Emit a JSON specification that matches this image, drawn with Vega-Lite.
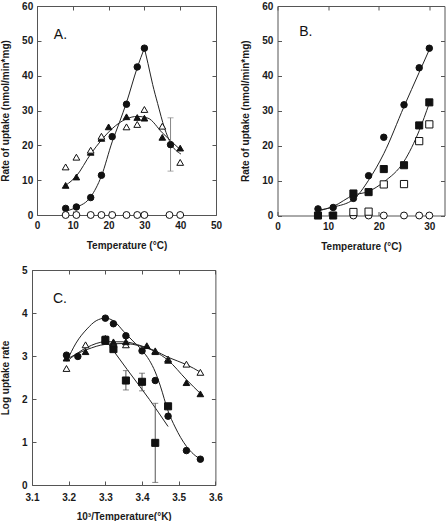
{
  "$schema": "https://vega.github.io/schema/vega-lite/v6.json",
  "padding": 0,
  "background": "white",
  "spacing": 13,
  "config": {
    "font": "Liberation Sans",
    "view": {"stroke": "#555", "strokeWidth": 1},
    "axis": {
      "grid": false, "domain": false, "domainColor": "#555", "domainWidth": 1, "tickColor": "#555", "tickSize": -4, "tickWidth": 1,
      "labelFont": "Liberation Sans", "labelFontWeight": "bold", "labelFontSize": 10, "labelColor": "#1a1a1a",
      "titleFont": "Liberation Sans", "titleFontWeight": "bold", "titleFontSize": 10, "titleColor": "#1a1a1a",
      "labelFlush": false, "labelOverlap": false
    }
  },
  "datasets": {
    "aPoints": [
      {"series": "filled circle", "x": 8, "y": 1.9}, {"series": "filled circle", "x": 11, "y": 2.3}, {"series": "filled circle", "x": 15, "y": 5.0}, {"series": "filled circle", "x": 18, "y": 11.4}, {"series": "filled circle", "x": 21, "y": 22.5}, {"series": "filled circle", "x": 25, "y": 31.8}, {"series": "filled circle", "x": 28, "y": 42.5}, {"series": "filled circle", "x": 30, "y": 47.9}, {"series": "filled circle", "x": 37.3, "y": 20.2},
      {"series": "filled triangle", "x": 8, "y": 8.5}, {"series": "filled triangle", "x": 11, "y": 10.9}, {"series": "filled triangle", "x": 15, "y": 18.0}, {"series": "filled triangle", "x": 18, "y": 22.0}, {"series": "filled triangle", "x": 20, "y": 25.3}, {"series": "filled triangle", "x": 25, "y": 28.2}, {"series": "filled triangle", "x": 28, "y": 28.0}, {"series": "filled triangle", "x": 30, "y": 27.8}, {"series": "filled triangle", "x": 35, "y": 22.3}, {"series": "filled triangle", "x": 40, "y": 19.2},
      {"series": "open triangle", "x": 8, "y": 13.8}, {"series": "open triangle", "x": 11, "y": 16.6}, {"series": "open triangle", "x": 15, "y": 18.6}, {"series": "open triangle", "x": 18, "y": 22.6}, {"series": "open triangle", "x": 25, "y": 25.3}, {"series": "open triangle", "x": 28, "y": 26.0}, {"series": "open triangle", "x": 30, "y": 30.3}, {"series": "open triangle", "x": 35, "y": 25.5}, {"series": "open triangle", "x": 40, "y": 15.1},
      {"series": "open circle", "x": 8, "y": 0}, {"series": "open circle", "x": 11, "y": 0}, {"series": "open circle", "x": 15, "y": 0}, {"series": "open circle", "x": 18, "y": 0}, {"series": "open circle", "x": 21, "y": 0}, {"series": "open circle", "x": 25, "y": 0}, {"series": "open circle", "x": 28, "y": 0}, {"series": "open circle", "x": 30, "y": 0}, {"series": "open circle", "x": 37, "y": 0}, {"series": "open circle", "x": 40, "y": 0}
    ],
    "aCurves": [
      {"curve": "circle rise", "x": 8, "y": 1.1}, {"curve": "circle rise", "x": 11, "y": 2.2}, {"curve": "circle rise", "x": 15, "y": 5.2}, {"curve": "circle rise", "x": 18, "y": 11.2}, {"curve": "circle rise", "x": 21, "y": 21.0}, {"curve": "circle rise", "x": 23, "y": 26.5}, {"curve": "circle rise", "x": 25, "y": 32.3}, {"curve": "circle rise", "x": 28, "y": 42.3}, {"curve": "circle rise", "x": 30, "y": 47.9},
      {"curve": "circle fall", "x": 30, "y": 47.9}, {"curve": "circle fall", "x": 31, "y": 43.5}, {"curve": "circle fall", "x": 32.3, "y": 37.5}, {"curve": "circle fall", "x": 33.7, "y": 32.0}, {"curve": "circle fall", "x": 35.6, "y": 25.0}, {"curve": "circle fall", "x": 37.4, "y": 20.5}, {"curve": "circle fall", "x": 40.2, "y": 17.5},
      {"curve": "triangle", "x": 8, "y": 8.5}, {"curve": "triangle", "x": 11, "y": 11.2}, {"curve": "triangle", "x": 15, "y": 17.5}, {"curve": "triangle", "x": 18, "y": 21.5}, {"curve": "triangle", "x": 21, "y": 24.8}, {"curve": "triangle", "x": 25, "y": 27.6}, {"curve": "triangle", "x": 28, "y": 28.3}, {"curve": "triangle", "x": 31, "y": 27.8}, {"curve": "triangle", "x": 35, "y": 23.6}, {"curve": "triangle", "x": 40.2, "y": 18.6}
    ],
    "aErrors": [{"x": 37.3, "lo": 12.6, "hi": 27.9}],
    "bPoints": [
      {"series": "filled square", "x": 8, "y": 0}, {"series": "filled square", "x": 11, "y": 0}, {"series": "filled square", "x": 15, "y": 6.3}, {"series": "filled square", "x": 18, "y": 6.7}, {"series": "filled square", "x": 21, "y": 13.3}, {"series": "filled square", "x": 25, "y": 14.4}, {"series": "filled square", "x": 28, "y": 25.8}, {"series": "filled square", "x": 30, "y": 32.4},
      {"series": "open circle", "x": 15, "y": 0}, {"series": "open circle", "x": 18, "y": 0}, {"series": "open circle", "x": 21, "y": 0}, {"series": "open circle", "x": 25, "y": 0}, {"series": "open circle", "x": 28, "y": 0}, {"series": "open circle", "x": 30, "y": 0},
      {"series": "open square", "x": 15, "y": 1.0}, {"series": "open square", "x": 18, "y": 1.1}, {"series": "open square", "x": 21, "y": 8.9}, {"series": "open square", "x": 25, "y": 9.0}, {"series": "open square", "x": 28, "y": 21.3}, {"series": "open square", "x": 30, "y": 26.1},
      {"series": "filled circle", "x": 8, "y": 1.9}, {"series": "filled circle", "x": 11, "y": 2.3}, {"series": "filled circle", "x": 15, "y": 4.9}, {"series": "filled circle", "x": 18, "y": 11.4}, {"series": "filled circle", "x": 21, "y": 22.4}, {"series": "filled circle", "x": 25, "y": 31.7}, {"series": "filled circle", "x": 28, "y": 42.3}, {"series": "filled circle", "x": 30, "y": 47.9}
    ],
    "bCurves": [
      {"curve": "circle", "x": 8, "y": 1.5}, {"curve": "circle", "x": 11, "y": 2.4}, {"curve": "circle", "x": 15, "y": 4.6}, {"curve": "circle", "x": 18, "y": 10.1}, {"curve": "circle", "x": 21, "y": 17.7}, {"curve": "circle", "x": 25, "y": 31.2}, {"curve": "circle", "x": 28, "y": 41.0}, {"curve": "circle", "x": 30, "y": 47.5},
      {"curve": "square", "x": 8, "y": 1.3}, {"curve": "square", "x": 11, "y": 2.6}, {"curve": "square", "x": 15, "y": 5.8}, {"curve": "square", "x": 18, "y": 6.9}, {"curve": "square", "x": 21, "y": 9.6}, {"curve": "square", "x": 25, "y": 15.5}, {"curve": "square", "x": 28, "y": 24.3}, {"curve": "square", "x": 30, "y": 32.2}
    ],
    "cPoints": [
      {"series": "open triangle", "x": 3.194, "y": 2.71}, {"series": "open triangle", "x": 3.246, "y": 3.26}, {"series": "open triangle", "x": 3.300, "y": 3.41}, {"series": "open triangle", "x": 3.322, "y": 3.27}, {"series": "open triangle", "x": 3.356, "y": 3.26}, {"series": "open triangle", "x": 3.436, "y": 3.12}, {"series": "open triangle", "x": 3.471, "y": 2.93}, {"series": "open triangle", "x": 3.521, "y": 2.81}, {"series": "open triangle", "x": 3.559, "y": 2.62},
      {"series": "filled triangle", "x": 3.194, "y": 2.95}, {"series": "filled triangle", "x": 3.246, "y": 3.10}, {"series": "filled triangle", "x": 3.300, "y": 3.34}, {"series": "filled triangle", "x": 3.322, "y": 3.33}, {"series": "filled triangle", "x": 3.356, "y": 3.33}, {"series": "filled triangle", "x": 3.413, "y": 3.24}, {"series": "filled triangle", "x": 3.436, "y": 3.10}, {"series": "filled triangle", "x": 3.471, "y": 2.90}, {"series": "filled triangle", "x": 3.521, "y": 2.38}, {"series": "filled triangle", "x": 3.559, "y": 2.12},
      {"series": "filled square", "x": 3.300, "y": 3.37}, {"series": "filled square", "x": 3.322, "y": 3.16}, {"series": "filled square", "x": 3.356, "y": 2.43}, {"series": "filled square", "x": 3.400, "y": 2.40}, {"series": "filled square", "x": 3.436, "y": 0.98}, {"series": "filled square", "x": 3.471, "y": 1.83},
      {"series": "filled circle", "x": 3.194, "y": 3.02}, {"series": "filled circle", "x": 3.225, "y": 2.99}, {"series": "filled circle", "x": 3.300, "y": 3.88}, {"series": "filled circle", "x": 3.322, "y": 3.75}, {"series": "filled circle", "x": 3.356, "y": 3.47}, {"series": "filled circle", "x": 3.400, "y": 3.12}, {"series": "filled circle", "x": 3.436, "y": 2.43}, {"series": "filled circle", "x": 3.471, "y": 1.60}, {"series": "filled circle", "x": 3.521, "y": 0.80}, {"series": "filled circle", "x": 3.559, "y": 0.60}
    ],
    "cCurves": [
      {"curve": "circle", "x": 3.195, "y": 2.88}, {"curve": "circle", "x": 3.22, "y": 3.3}, {"curve": "circle", "x": 3.25, "y": 3.63}, {"curve": "circle", "x": 3.275, "y": 3.82}, {"curve": "circle", "x": 3.30, "y": 3.88}, {"curve": "circle", "x": 3.325, "y": 3.8}, {"curve": "circle", "x": 3.35, "y": 3.57}, {"curve": "circle", "x": 3.375, "y": 3.35}, {"curve": "circle", "x": 3.40, "y": 3.13}, {"curve": "circle", "x": 3.42, "y": 2.9}, {"curve": "circle", "x": 3.436, "y": 2.63}, {"curve": "circle", "x": 3.45, "y": 2.3}, {"curve": "circle", "x": 3.471, "y": 1.72}, {"curve": "circle", "x": 3.49, "y": 1.35}, {"curve": "circle", "x": 3.521, "y": 0.9}, {"curve": "circle", "x": 3.54, "y": 0.72}, {"curve": "circle", "x": 3.56, "y": 0.6},
      {"curve": "square", "x": 3.30, "y": 3.38}, {"curve": "square", "x": 3.36, "y": 2.68}, {"curve": "square", "x": 3.42, "y": 1.99}, {"curve": "square", "x": 3.471, "y": 1.36},
      {"curve": "filled triangle", "x": 3.195, "y": 2.93}, {"curve": "filled triangle", "x": 3.25, "y": 3.15}, {"curve": "filled triangle", "x": 3.30, "y": 3.27}, {"curve": "filled triangle", "x": 3.35, "y": 3.29}, {"curve": "filled triangle", "x": 3.40, "y": 3.22}, {"curve": "filled triangle", "x": 3.436, "y": 3.1}, {"curve": "filled triangle", "x": 3.471, "y": 2.9}, {"curve": "filled triangle", "x": 3.521, "y": 2.45}, {"curve": "filled triangle", "x": 3.56, "y": 2.12},
      {"curve": "open triangle", "x": 3.195, "y": 2.88}, {"curve": "open triangle", "x": 3.25, "y": 3.2}, {"curve": "open triangle", "x": 3.30, "y": 3.33}, {"curve": "open triangle", "x": 3.35, "y": 3.33}, {"curve": "open triangle", "x": 3.40, "y": 3.23}, {"curve": "open triangle", "x": 3.436, "y": 3.12}, {"curve": "open triangle", "x": 3.471, "y": 2.97}, {"curve": "open triangle", "x": 3.521, "y": 2.8}, {"curve": "open triangle", "x": 3.56, "y": 2.62}
    ],
    "cErrors": [
      {"x": 3.300, "lo": 3.28, "hi": 3.47}, {"x": 3.356, "lo": 2.21, "hi": 2.66}, {"x": 3.400, "lo": 2.19, "hi": 2.60}, {"x": 3.436, "lo": 0.06, "hi": 1.90}
    ]
  },
  "vconcat": [
    {
      "spacing": 16.5,
      "hconcat": [
        {
          "width": 179, "height": 209,
          "layer": [
            {
              "data": {"name": "aCurves"},
              "mark": {"type": "line", "interpolate": "monotone", "color": "#222", "strokeWidth": 1},
              "encoding": {
                "x": {"field": "x", "type": "quantitative", "scale": {"domain": [0, 50], "nice": false, "zero": false},
                      "axis": {"orient": "bottom", "values": [0, 10, 20, 30, 40, 50], "title": "Temperature (°C)", "labelPadding": 9, "titlePadding": 10}},
                "y": {"field": "y", "type": "quantitative", "scale": {"domain": [0, 60], "nice": false, "zero": false},
                      "axis": {"orient": "left", "values": [0, 10, 20, 30, 40, 50, 60], "title": "Rate of uptake (nmol/min*mg)", "labelPadding": 8.3, "titlePadding": 11}},
                "detail": {"field": "curve"}
              }
            },
            {
              "data": {"name": "aPoints"},
              "mark": {"type": "point", "opacity": 0},
              "encoding": {
                "x": {"field": "x", "type": "quantitative", "scale": {"domain": [0, 50], "nice": false, "zero": false},
                      "axis": {"orient": "top", "values": [0, 10, 20, 30, 40, 50], "labels": false, "title": null}},
                "y": {"field": "y", "type": "quantitative", "scale": {"domain": [0, 60], "nice": false, "zero": false},
                      "axis": {"orient": "right", "values": [0, 10, 20, 30, 40, 50, 60], "labels": false, "title": null}}
              }
            },
            {
              "data": {"name": "aErrors"},
              "mark": {"type": "rule", "color": "#888", "strokeWidth": 1},
              "encoding": {
                "x": {"field": "x", "type": "quantitative", "axis": null},
                "y": {"field": "lo", "type": "quantitative", "axis": null},
                "y2": {"field": "hi"}
              }
            },
            {
              "data": {"name": "aErrors"},
              "mark": {"type": "tick", "orient": "horizontal", "size": 6, "thickness": 1, "color": "#888"},
              "encoding": {
                "x": {"field": "x", "type": "quantitative", "axis": null},
                "y": {"field": "lo", "type": "quantitative", "axis": null}
              }
            },
            {
              "data": {"name": "aErrors"},
              "mark": {"type": "tick", "orient": "horizontal", "size": 6, "thickness": 1, "color": "#888"},
              "encoding": {
                "x": {"field": "x", "type": "quantitative", "axis": null},
                "y": {"field": "hi", "type": "quantitative", "axis": null}
              }
            },
            {
              "data": {"name": "aPoints"},
              "mark": {"type": "point", "filled": true, "stroke": "#111", "strokeWidth": 1, "opacity": 1, "clip": false},
              "encoding": {
                "x": {"field": "x", "type": "quantitative", "axis": null},
                "y": {"field": "y", "type": "quantitative", "axis": null},
                "shape": {"field": "series", "type": "nominal", "legend": null,
                          "scale": {"domain": ["filled circle", "filled triangle", "open triangle", "open circle", "filled square", "open square"], "range": ["circle", "triangle-up", "triangle-up", "circle", "square", "square"]}},
                "fill": {"field": "series", "type": "nominal", "legend": null,
                         "scale": {"domain": ["filled circle", "filled triangle", "open triangle", "open circle", "filled square", "open square"], "range": ["#111", "#111", "white", "white", "#111", "white"]}},
                "size": {"field": "series", "type": "nominal", "legend": null,
                         "scale": {"domain": ["filled circle", "filled triangle", "open triangle", "open circle", "filled square", "open square"], "range": [42, 52, 52, 42, 36, 36]}}
              }
            },
            {
              "data": {"values": [{"label": "A."}]},
              "mark": {"type": "text", "align": "left", "baseline": "alphabetic", "fontSize": 14, "font": "Liberation Sans", "color": "#111"},
              "encoding": {
                "x": {"datum": 4.7, "type": "quantitative", "axis": null},
                "y": {"datum": 50.5, "type": "quantitative", "axis": null},
                "text": {"field": "label"}
              }
            }
          ],
          "resolve": {"axis": {"x": "independent", "y": "independent"}}
        },
        {
          "width": 167, "height": 209.5,
          "layer": [
            {
              "data": {"name": "bCurves"},
              "mark": {"type": "line", "interpolate": "monotone", "color": "#222", "strokeWidth": 1},
              "encoding": {
                "x": {"field": "x", "type": "quantitative", "scale": {"domain": [0, 33], "nice": false, "zero": false},
                      "axis": {"orient": "bottom", "values": [0, 10, 20, 30], "title": "Temperature (°C)", "labelPadding": 9.7, "titlePadding": 10}},
                "y": {"field": "y", "type": "quantitative", "scale": {"domain": [0, 60], "nice": false, "zero": false},
                      "axis": {"orient": "left", "values": [0, 10, 20, 30, 40, 50, 60], "title": "Rate of uptake (nmol/min*mg)", "labelPadding": 8.6, "titlePadding": 11}},
                "detail": {"field": "curve"}
              }
            },
            {
              "data": {"name": "bPoints"},
              "mark": {"type": "point", "opacity": 0},
              "encoding": {
                "x": {"field": "x", "type": "quantitative", "scale": {"domain": [0, 33], "nice": false, "zero": false},
                      "axis": {"orient": "top", "values": [0, 10, 20, 30], "labels": false, "title": null}},
                "y": {"field": "y", "type": "quantitative", "scale": {"domain": [0, 60], "nice": false, "zero": false},
                      "axis": {"orient": "right", "values": [0, 10, 20, 30, 40, 50, 60], "labels": false, "title": null}}
              }
            },
            {
              "data": {"name": "bPoints"},
              "mark": {"type": "point", "filled": true, "stroke": "#111", "strokeWidth": 1, "opacity": 1, "clip": false},
              "encoding": {
                "x": {"field": "x", "type": "quantitative", "axis": null},
                "y": {"field": "y", "type": "quantitative", "axis": null},
                "shape": {"field": "series", "type": "nominal", "legend": null,
                          "scale": {"domain": ["filled circle", "filled triangle", "open triangle", "open circle", "filled square", "open square"], "range": ["circle", "triangle-up", "triangle-up", "circle", "square", "square"]}},
                "fill": {"field": "series", "type": "nominal", "legend": null,
                         "scale": {"domain": ["filled circle", "filled triangle", "open triangle", "open circle", "filled square", "open square"], "range": ["#111", "#111", "white", "white", "#111", "white"]}},
                "size": {"field": "series", "type": "nominal", "legend": null,
                         "scale": {"domain": ["filled circle", "filled triangle", "open triangle", "open circle", "filled square", "open square"], "range": [42, 52, 52, 42, 36, 36]}}
              }
            },
            {
              "data": {"values": [{"label": "B."}]},
              "mark": {"type": "text", "align": "left", "baseline": "alphabetic", "fontSize": 14, "font": "Liberation Sans", "color": "#111"},
              "encoding": {
                "x": {"datum": 4.3, "type": "quantitative", "axis": null},
                "y": {"datum": 51.3, "type": "quantitative", "axis": null},
                "text": {"field": "label"}
              }
            }
          ],
          "resolve": {"axis": {"x": "independent", "y": "independent"}}
        }
      ]
    },
    {
      "width": 178.4, "height": 215,
      "view": {"stroke": null},
      "layer": [
        {
          "data": {"name": "cCurves"},
          "mark": {"type": "line", "interpolate": "monotone", "color": "#222", "strokeWidth": 1},
          "encoding": {
            "x": {"field": "x", "type": "quantitative", "scale": {"domain": [3.1, 3.6], "range": [-5, 178.4], "nice": false, "zero": false},
                  "axis": {"orient": "bottom", "values": [3.1, 3.2, 3.3, 3.4, 3.5, 3.6], "format": ".1f", "title": "10³/Temperature(°K)", "labelPadding": 11, "titlePadding": 9, "domain": true}},
            "y": {"field": "y", "type": "quantitative", "scale": {"domain": [0, 5], "nice": false, "zero": false},
                  "axis": {"orient": "left", "offset": 5, "values": [0, 1, 2, 3, 4, 5], "title": "Log uptake rate", "labelPadding": 9, "titlePadding": 11, "domain": true}},
            "detail": {"field": "curve"}
          }
        },
        {
          "data": {"name": "cPoints"},
          "mark": {"type": "point", "opacity": 0},
          "encoding": {
            "x": {"field": "x", "type": "quantitative", "scale": {"domain": [3.1, 3.6], "range": [-5, 178.4], "nice": false, "zero": false},
                  "axis": {"orient": "top", "values": [3.1, 3.2, 3.3, 3.4, 3.5, 3.6], "labels": false, "title": null, "domain": true}},
            "y": {"field": "y", "type": "quantitative", "scale": {"domain": [0, 5], "nice": false, "zero": false},
                  "axis": {"orient": "right", "values": [0, 1, 2, 3, 4, 5], "labels": false, "title": null, "domain": true}}
          }
        },
        {
          "data": {"name": "cErrors"},
          "mark": {"type": "rule", "color": "#555", "strokeWidth": 1},
          "encoding": {
            "x": {"field": "x", "type": "quantitative", "axis": null},
            "y": {"field": "lo", "type": "quantitative", "axis": null},
            "y2": {"field": "hi"}
          }
        },
        {
          "data": {"name": "cErrors"},
          "mark": {"type": "tick", "orient": "horizontal", "size": 6, "thickness": 1, "color": "#555"},
          "encoding": {
            "x": {"field": "x", "type": "quantitative", "axis": null},
            "y": {"field": "lo", "type": "quantitative", "axis": null}
          }
        },
        {
          "data": {"name": "cErrors"},
          "mark": {"type": "tick", "orient": "horizontal", "size": 6, "thickness": 1, "color": "#555"},
          "encoding": {
            "x": {"field": "x", "type": "quantitative", "axis": null},
            "y": {"field": "hi", "type": "quantitative", "axis": null}
          }
        },
        {
          "data": {"name": "cPoints"},
          "mark": {"type": "point", "filled": true, "stroke": "#111", "strokeWidth": 1, "opacity": 1, "clip": false},
          "encoding": {
            "x": {"field": "x", "type": "quantitative", "axis": null},
            "y": {"field": "y", "type": "quantitative", "axis": null},
            "shape": {"field": "series", "type": "nominal", "legend": null,
                      "scale": {"domain": ["filled circle", "filled triangle", "open triangle", "open circle", "filled square", "open square"], "range": ["circle", "triangle-up", "triangle-up", "circle", "square", "square"]}},
            "fill": {"field": "series", "type": "nominal", "legend": null,
                     "scale": {"domain": ["filled circle", "filled triangle", "open triangle", "open circle", "filled square", "open square"], "range": ["#111", "#111", "white", "white", "#111", "white"]}},
            "size": {"field": "series", "type": "nominal", "legend": null,
                     "scale": {"domain": ["filled circle", "filled triangle", "open triangle", "open circle", "filled square", "open square"], "range": [42, 52, 52, 42, 36, 36]}}
          }
        },
        {
          "data": {"values": [{"label": "C."}]},
          "mark": {"type": "text", "align": "left", "baseline": "alphabetic", "fontSize": 14, "font": "Liberation Sans", "color": "#111"},
          "encoding": {
            "x": {"datum": 3.157, "type": "quantitative", "axis": null},
            "y": {"datum": 4.23, "type": "quantitative", "axis": null},
            "text": {"field": "label"}
          }
        }
      ],
      "resolve": {"axis": {"x": "independent", "y": "independent"}}
    }
  ]
}
